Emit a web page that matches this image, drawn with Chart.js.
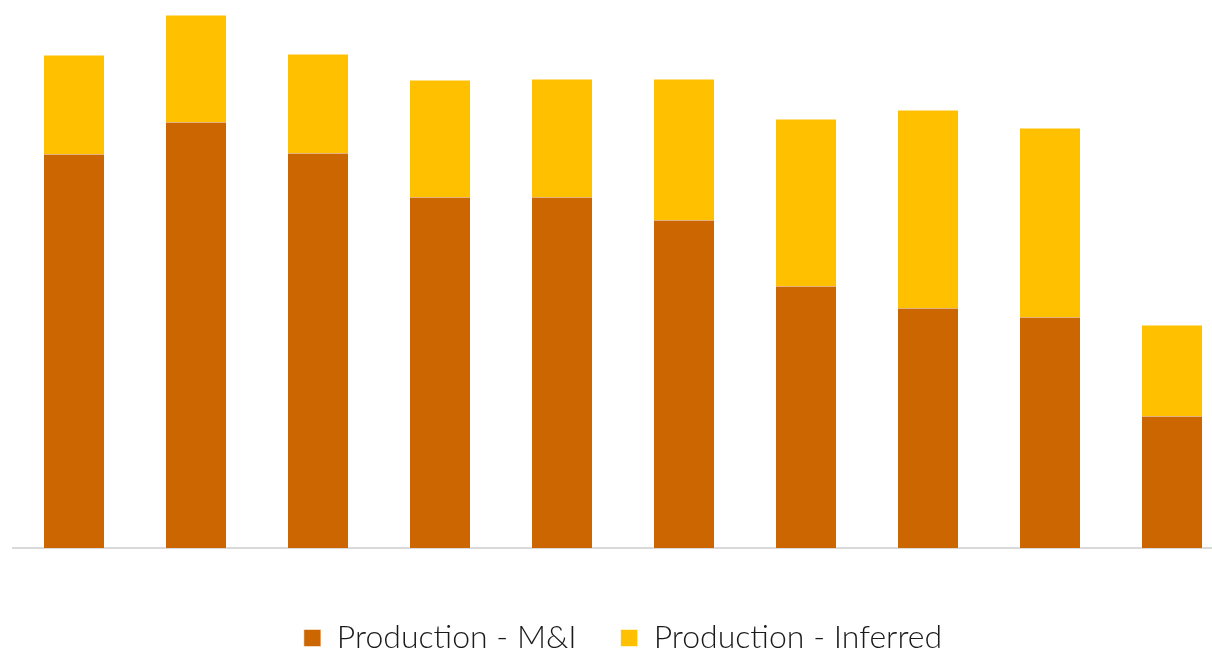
<!DOCTYPE html>
<html lang="en">
    <head>
        <meta charset="utf-8">
        <title>Production</title>
        <style>
        html, body { margin: 0; padding: 0; background: #fff; overflow: hidden; }
        #canvas-holder { width: 1258px; height: 650px; }
        </style>
    </head>
    <body>
        <div id="canvas-holder">
            <canvas id="production"></canvas>
        </div>

    <script src="https://cdn.jsdelivr.net/npm/chart.js@4/dist/chart.umd.min.js"></script>
    <script>
        // no category labels are shown on the original
        const labels = ['1', '2', '3', '4', '5', '6', '7', '8', '9', '10'];
        const prodMI = [39.4, 42.6, 39.5, 35.1, 35.1, 32.8, 26.2, 24.0, 23.1, 13.2];
        const prodInferred = [9.9, 10.7, 9.9, 11.7, 11.8, 14.1, 16.7, 19.8, 18.9, 9.1];

        var ctx = document.getElementById('production');
        var myChart = new Chart(ctx, {
            type: 'bar',
            data: {
                labels: labels,
                datasets: [{
                    label: 'Production - M&I',
                    data: prodMI,
                    backgroundColor: '#cc6600',
                    borderColor: '#ffffff',
                    borderWidth: 0.5
                }, {
                    label: 'Production - Inferred',
                    data: prodInferred,
                    backgroundColor: '#ffc000',
                    borderColor: '#ffffff',
                    borderWidth: 0.5
                }]
            },
            options: {
                responsive: true,
                maintainAspectRatio: false,
                animation: false,
                datasets: {
                    bar: { barPercentage: 0.5, categoryPercentage: 1.0 }
                },
                layout: {
                    padding: { left: 13, right: 25, top: 15, bottom: -14 }
                },
                scales: {
                    x: {
                        stacked: true,
                        grid: { display: false },
                        ticks: { display: false },
                        border: { display: true, color: '#d9d9d9', width: 2 }
                    },
                    y: {
                        stacked: true,
                        display: false,
                        min: 0,
                        max: 53.3
                    }
                },
                plugins: {
                    tooltip: { enabled: false },
                    legend: {
                        position: 'bottom',
                        title: {
                            display: true,
                            text: ' ',
                            font: { size: 10 },
                            padding: { top: 0, bottom: 10 }
                        },
                        labels: {
                            boxWidth: 17,
                            boxHeight: 17,
                            padding: 44,
                            color: '#1a1a1a',
                            font: { family: 'Lato', size: 32, weight: 300 }
                        }
                    }
                }
            }
        });
    </script>
    </body>
</html>
